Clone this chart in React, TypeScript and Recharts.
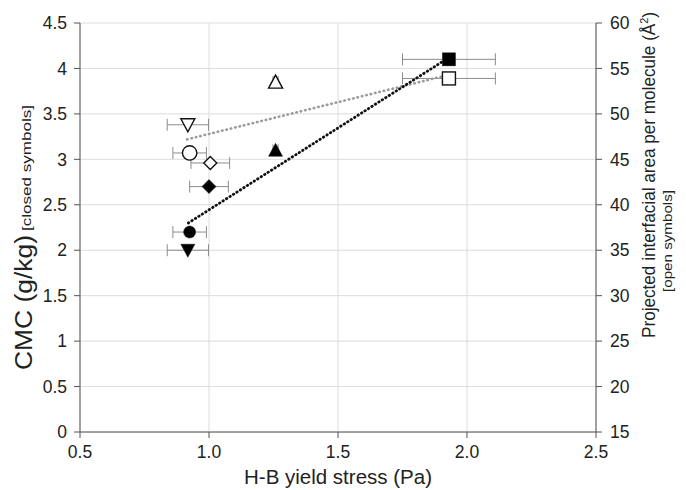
import {
  ScatterChart,
  Scatter,
  XAxis,
  YAxis,
  CartesianGrid,
  ErrorBar,
} from "recharts";

const FONT = "'Liberation Sans', Arial, sans-serif";

// closed symbols -> CMC (left axis, g/kg)
const closedCircle = [{ x: 0.925, y: 2.2, xErr: 0.065 }];
const closedTriDown = [{ x: 0.918, y: 2.0, xErr: 0.08 }];
const closedDiamond = [{ x: 1.0, y: 2.7, xErr: 0.075 }];
const closedTriUp = [{ x: 1.258, y: 3.1, xErr: 0.01 }];
const closedSquare = [{ x: 1.93, y: 4.1, xErr: 0.18 }];

// open symbols -> projected area (right axis, Å²)
const openCircle = [{ x: 0.925, y: 45.7, xErr: 0.065 }];
const openTriDown = [{ x: 0.918, y: 48.8, xErr: 0.08 }];
const openDiamond = [{ x: 1.005, y: 44.6, xErr: 0.075 }];
const openTriUp = [{ x: 1.258, y: 53.5, xErr: 0.01 }];
const openSquare = [{ x: 1.93, y: 53.9, xErr: 0.18 }];

// dotted trend lines
const closedTrend = [
  { x: 0.92, y: 2.3 },
  { x: 1.93, y: 4.12 },
];
const openTrend = [
  { x: 0.915, y: 47.2 },
  { x: 1.93, y: 54.3 },
];

const xTicks = [0.5, 1.0, 1.5, 2.0, 2.5];
const leftTicks = [0, 0.5, 1, 1.5, 2, 2.5, 3, 3.5, 4, 4.5];
const rightTicks = [15, 20, 25, 30, 35, 40, 45, 50, 55, 60];

type Kind = "circle" | "triDown" | "diamond" | "triUp" | "square";

const marker = (kind: Kind, filled: boolean) => (props: any) => {
  const { cx, cy } = props;
  const fill = filled ? "#000" : "#fff";
  const stroke = "#111";
  const sw = filled ? 0.5 : 1.4;
  switch (kind) {
    case "circle": {
      const r = filled ? 6 : 7.2;
      return <circle cx={cx} cy={cy} r={r} fill={fill} stroke={stroke} strokeWidth={sw} />;
    }
    case "square": {
      const h = 6.5;
      return (
        <rect x={cx - h} y={cy - h} width={h * 2} height={h * 2} fill={fill} stroke={stroke} strokeWidth={sw} />
      );
    }
    case "diamond": {
      const h = filled ? 7 : 6.5;
      return (
        <polygon
          points={`${cx},${cy - h} ${cx + h},${cy} ${cx},${cy + h} ${cx - h},${cy}`}
          fill={fill}
          stroke={stroke}
          strokeWidth={sw}
        />
      );
    }
    case "triUp": {
      const w = 7;
      return (
        <polygon
          points={`${cx},${cy - 7} ${cx + w},${cy + 6} ${cx - w},${cy + 6}`}
          fill={fill}
          stroke={stroke}
          strokeWidth={sw}
        />
      );
    }
    case "triDown": {
      const w = 7;
      return (
        <polygon
          points={`${cx - w},${cy - 6} ${cx + w},${cy - 6} ${cx},${cy + 7}`}
          fill={fill}
          stroke={stroke}
          strokeWidth={sw}
        />
      );
    }
  }
  return null;
};

const noDot = () => <g />;

// rotated axis titles; textLength keeps the stretched look of the original
const LeftTitle = (props: any) => {
  const vb = props.viewBox;
  const bx = vb.x + 32;
  return (
    <g fontFamily={FONT} fill="#222">
      <text
        transform={`translate(${bx},370) rotate(-90)`}
        fontSize={23}
        textLength={135}
        lengthAdjust="spacingAndGlyphs"
      >
        CMC (g/kg)
      </text>
      <text
        transform={`translate(${bx - 1},231) rotate(-90)`}
        fontSize={12.5}
        textLength={126}
        lengthAdjust="spacingAndGlyphs"
      >
        [closed symbols]
      </text>
    </g>
  );
};

const RightTitle = (props: any) => {
  const vb = props.viewBox;
  const x1 = vb.x + 59;
  const x2 = vb.x + 76;
  return (
    <g fontFamily={FONT} fill="#222">
      <text
        transform={`translate(${x1},338) rotate(-90)`}
        fontSize={17.5}
        textLength={326}
        lengthAdjust="spacingAndGlyphs"
      >
        Projected interfacial area per molecule (Å
        <tspan fontSize={11} dy={-7}>
          2
        </tspan>
        <tspan dy={7}>)</tspan>
      </text>
      <text
        transform={`translate(${x2},292) rotate(-90)`}
        fontSize={13}
        textLength={102}
        lengthAdjust="spacingAndGlyphs"
      >
        [open symbols]
      </text>
    </g>
  );
};

const errProps = { direction: "x" as const, dataKey: "xErr", stroke: "#8c8c8c", strokeWidth: 1, width: 6 };

export default function App() {
  const axisColor = "#555";
  const tick = { fontSize: 17.5, fill: "#222", fontFamily: FONT };
  return (
    <div style={{ position: "absolute", left: 0, top: 0, background: "#fff" }}>
      <ScatterChart width={686} height={490} margin={{ top: 23, right: 0, bottom: 0, left: 0 }}>
        <CartesianGrid yAxisId="left" stroke="#dcdcdc" strokeWidth={1} />
        <XAxis
          type="number"
          dataKey="x"
          domain={[0.5, 2.5]}
          ticks={xTicks}
          tickFormatter={(v: number) => v.toFixed(1)}
          height={58}
          stroke={axisColor}
          tickSize={6}
          tickMargin={8}
          tick={tick}
          label={{
            value: "H-B yield stress (Pa)",
            position: "insideBottom",
            offset: 6,
            fontSize: 20.5,
            fill: "#222",
            fontFamily: FONT,
          }}
          allowDataOverflow
        />
        <YAxis
          yAxisId="left"
          type="number"
          dataKey="y"
          domain={[0, 4.5]}
          ticks={leftTicks}
          width={80}
          stroke={axisColor}
          tickSize={6}
          tickMargin={7}
          tick={tick}
          label={{ content: LeftTitle }}
          allowDataOverflow
        />
        <YAxis
          yAxisId="right"
          orientation="right"
          type="number"
          dataKey="y"
          domain={[15, 60]}
          ticks={rightTicks}
          width={90}
          stroke={axisColor}
          tickSize={6}
          tickMargin={8}
          tick={tick}
          label={{ content: RightTitle }}
          allowDataOverflow
        />

        <Scatter
          yAxisId="right"
          data={openTrend}
          line={{ stroke: "#9a9a9a", strokeWidth: 2.6, strokeDasharray: "0.5 4", strokeLinecap: "round" }}
          shape={noDot}
          isAnimationActive={false}
        />
        <Scatter
          yAxisId="left"
          data={closedTrend}
          line={{ stroke: "#111", strokeWidth: 2.8, strokeDasharray: "0.5 3.6", strokeLinecap: "round" }}
          shape={noDot}
          isAnimationActive={false}
        />

        <Scatter yAxisId="right" data={openCircle} shape={marker("circle", false)} isAnimationActive={false}>
          <ErrorBar {...errProps} />
        </Scatter>
        <Scatter yAxisId="right" data={openTriDown} shape={marker("triDown", false)} isAnimationActive={false}>
          <ErrorBar {...errProps} />
        </Scatter>
        <Scatter yAxisId="right" data={openDiamond} shape={marker("diamond", false)} isAnimationActive={false}>
          <ErrorBar {...errProps} />
        </Scatter>
        <Scatter yAxisId="right" data={openTriUp} shape={marker("triUp", false)} isAnimationActive={false}>
          <ErrorBar {...errProps} />
        </Scatter>
        <Scatter yAxisId="right" data={openSquare} shape={marker("square", false)} isAnimationActive={false}>
          <ErrorBar {...errProps} />
        </Scatter>

        <Scatter yAxisId="left" data={closedCircle} shape={marker("circle", true)} isAnimationActive={false}>
          <ErrorBar {...errProps} />
        </Scatter>
        <Scatter yAxisId="left" data={closedTriDown} shape={marker("triDown", true)} isAnimationActive={false}>
          <ErrorBar {...errProps} />
        </Scatter>
        <Scatter yAxisId="left" data={closedDiamond} shape={marker("diamond", true)} isAnimationActive={false}>
          <ErrorBar {...errProps} />
        </Scatter>
        <Scatter yAxisId="left" data={closedTriUp} shape={marker("triUp", true)} isAnimationActive={false}>
          <ErrorBar {...errProps} />
        </Scatter>
        <Scatter yAxisId="left" data={closedSquare} shape={marker("square", true)} isAnimationActive={false}>
          <ErrorBar {...errProps} />
        </Scatter>
      </ScatterChart>
    </div>
  );
}
